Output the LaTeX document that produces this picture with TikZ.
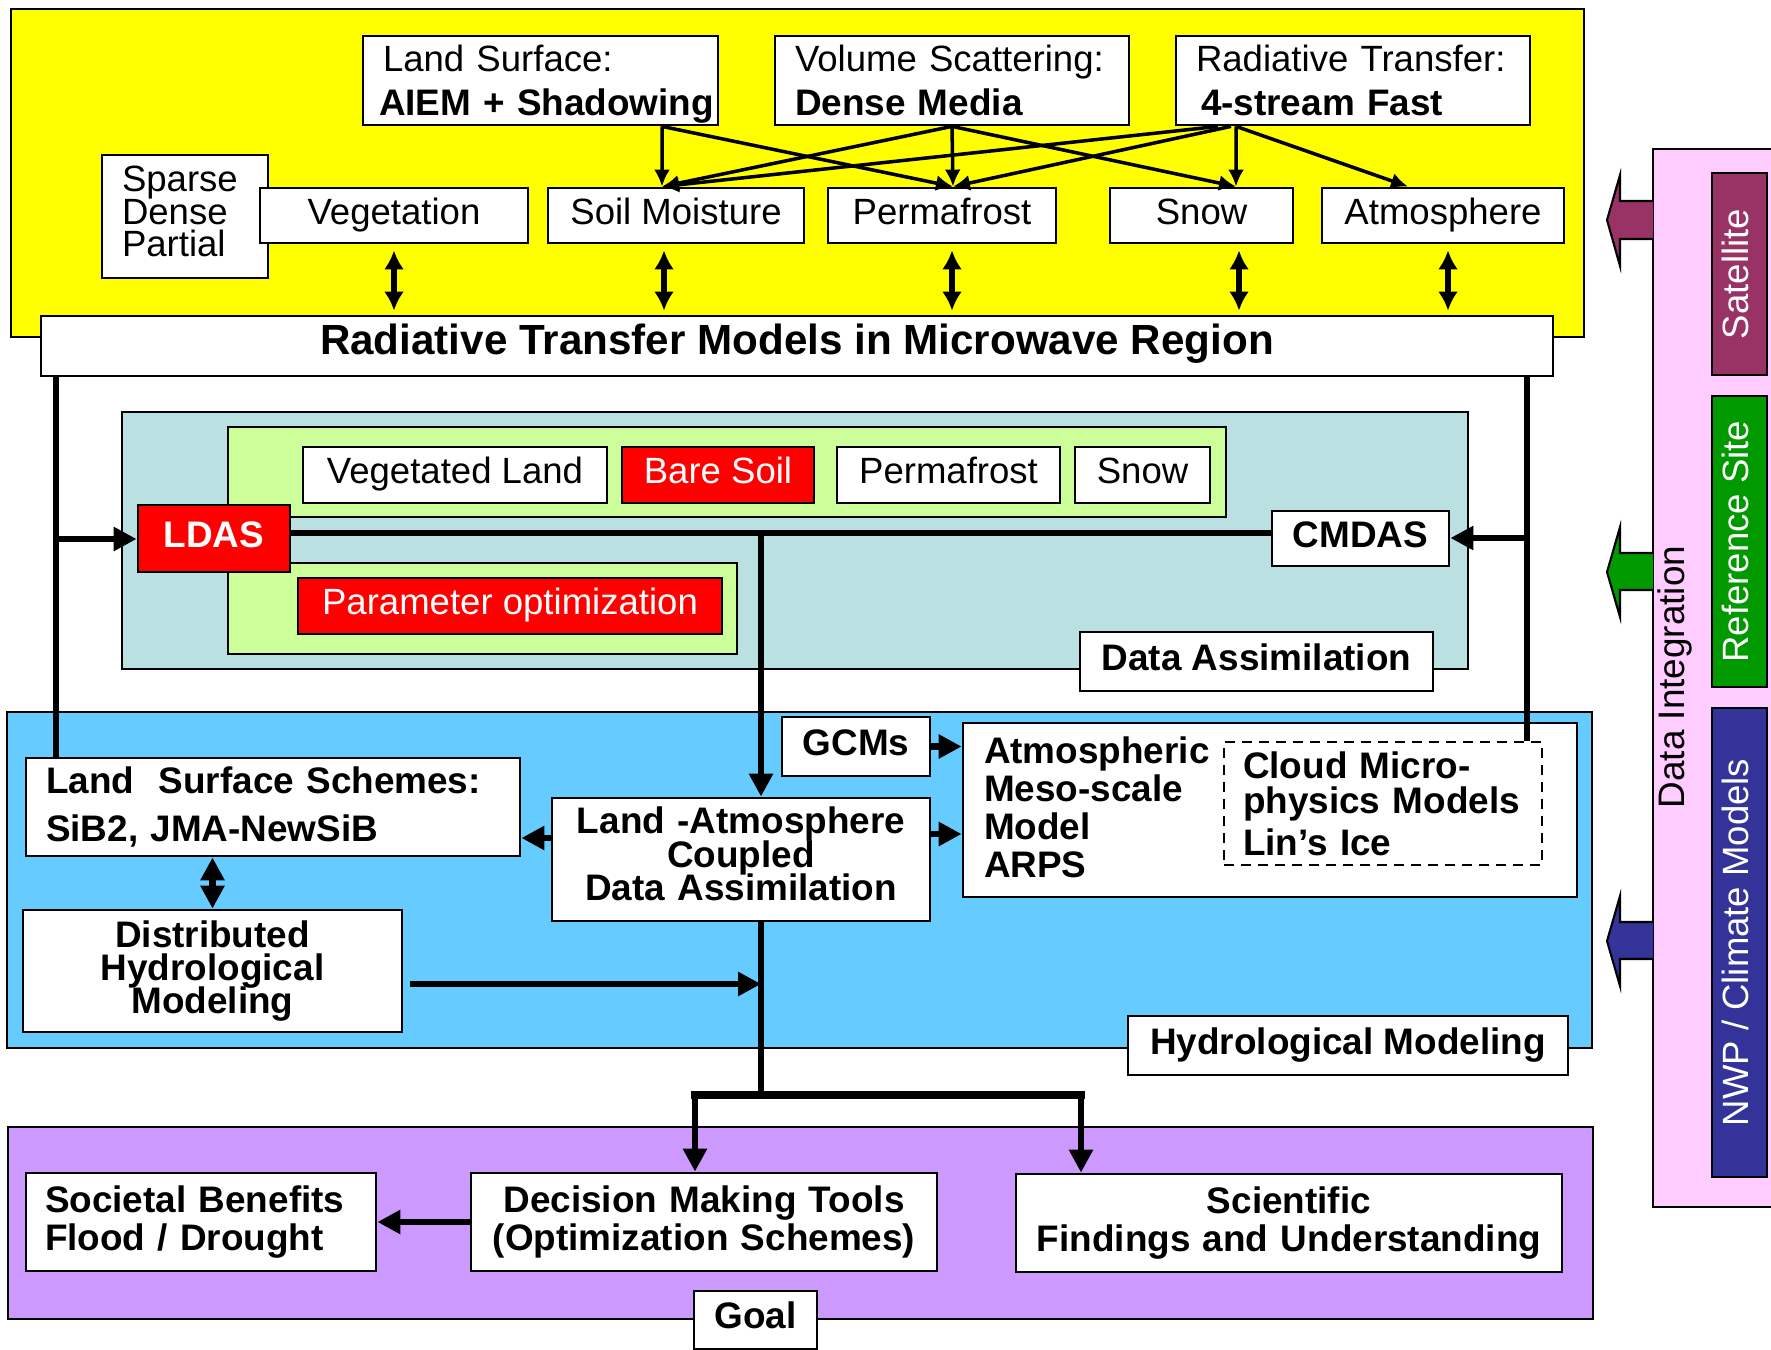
\documentclass[tikz,border=0pt]{standalone}
\usepackage{fontspec}
\setmainfont{Liberation Sans}
\usetikzlibrary{arrows.meta}

\definecolor{yellowbg}{HTML}{FFFF00}
\definecolor{tealbg}{HTML}{BAE0E2}
\definecolor{limebg}{HTML}{CCFF99}
\definecolor{bluebg}{HTML}{66CCFF}
\definecolor{purplebg}{HTML}{CC99FF}
\definecolor{pinkbg}{HTML}{FFCCFF}
\definecolor{satcol}{HTML}{993366}
\definecolor{refcol}{HTML}{009900}
\definecolor{nwpcol}{HTML}{333399}
\definecolor{boxred}{HTML}{FF0000}

\newcommand{\tightlines}{\lineskiplimit=-10pt\relax}

\begin{document}
\begin{tikzpicture}[x=0.1mm, y=-0.1mm,
        region/.style={draw, line width=0.8pt},
        wbox/.style={draw, fill=white, line width=0.8pt, inner sep=0pt,
            text height=2.7mm, text depth=1mm, font=\fontsize{10.4}{12.5}\selectfont},
        bbox/.style={wbox, font=\fontsize{10.5}{12.5}\selectfont\bfseries},
        redbox/.style={wbox, fill=boxred, text=white},
        tbox/.style={draw, fill=white, line width=0.8pt, inner ysep=0pt, inner xsep=2mm},
        sidebox/.style={wbox, rotate=90, text=white, minimum height=5.5mm},
        thinarrow/.style={line width=1pt, -{Latex[length=1.7mm, width=1.6mm]}},
        dblarrow/.style={line width=1.6pt, {Latex[length=1.9mm, width=2mm]}-{Latex[length=1.9mm, width=2mm]},
            shorten <=0.6mm, shorten >=0.4mm},
        trunk/.style={line width=1.9pt},
        bigarrow/.style={trunk, -{Triangle[length=2.3mm, width=2.3mm]}},
        bigdbl/.style={trunk, {Triangle[length=2.3mm, width=2.3mm]}-{Triangle[length=2.3mm, width=2.3mm]}},
        blockarrow/.style={line width=0.6pt, draw=black}]

        \useasboundingbox (0,0) rectangle (1771,1350);

        \draw[region, fill=yellowbg] (11,9) rectangle (1584,337);
        \draw[region, fill=tealbg] (122,412) rectangle (1468,669);
        \draw[region, fill=limebg] (228,427) rectangle (1226,517);
        \draw[region, fill=limebg] (228,563) rectangle (737,654);
        \draw[region, fill=bluebg] (7,712) rectangle (1592,1048);
        \draw[region, fill=purplebg] (8,1127) rectangle (1593,1319);
        \draw[region, fill=pinkbg] (1653,149) rectangle (1790,1207);

        \node[tbox, text width=32.3mm, inner xsep=1.6mm, minimum height=8.9mm, align=left, font=\fontsize{10.4}{12.5}\selectfont]
            (lsurf) at (540.5,80.5) {\hspace*{0.4mm}Land Surface:\\\raisebox{0pt}[\height][0pt]{\bfseries\fontsize{10.5}{12.5}\selectfont AIEM + Shadowing}};
        \node[tbox, text width=31.4mm, minimum height=8.9mm, align=left, font=\fontsize{10.4}{12.5}\selectfont]
            (vscat) at (952,80.5) {Volume Scattering:\\\mbox{\bfseries\fontsize{10.5}{12.5}\selectfont Dense Media}};
        \node[tbox, text width=31.4mm, minimum height=8.9mm, align=left, font=\fontsize{10.4}{12.5}\selectfont]
            (rtrans) at (1353,80.5) {Radiative Transfer:\\\hspace*{0.5mm}\mbox{\bfseries\fontsize{10.5}{12.5}\selectfont 4-stream Fast}};
        \node[tbox, text width=12.6mm, minimum height=12.3mm, align=left,
            font=\fontsize{10.4}{9.3}\selectfont\tightlines]
            (spdp) at (185,216.5) {Sparse\\Dense\\Partial\vspace{1mm}};
        \node[wbox, minimum width=26.8mm, minimum height=5.5mm] (veg) at (394,215.5) {Vegetation};
        \node[wbox, minimum width=25.6mm, minimum height=5.5mm] (soil) at (676,215.5) {Soil Moisture};
        \node[wbox, minimum width=22.8mm, minimum height=5.5mm] (perm) at (942,215.5) {Permafrost};
        \node[wbox, minimum width=18.3mm, minimum height=5.5mm] (snow) at (1201.5,215.5) {Snow};
        \node[wbox, minimum width=24.2mm, minimum height=5.5mm] (atmos) at (1443,215.5) {Atmosphere};
        \node[wbox, minimum width=151.2mm, minimum height=6mm, font=\fontsize{12}{14}\selectfont\bfseries]
            (rtbar) at (797,346) {Radiative Transfer Models in Microwave Region};

        \node[wbox, minimum width=30.4mm, minimum height=5.6mm] (vland) at (455,475) {Vegetated Land};
        \node[redbox, minimum width=19.2mm, minimum height=5.6mm] (bsoil) at (718,475) {Bare Soil};
        \node[wbox, minimum width=22.3mm, minimum height=5.6mm] (dperm) at (948.5,475) {Permafrost};
        \node[wbox, minimum width=13.5mm, minimum height=5.6mm] (dsnow) at (1142.5,475) {Snow};
        \node[redbox, minimum width=15.2mm, minimum height=6.7mm, font=\fontsize{10.5}{12.5}\selectfont\bfseries]
            (ldas) at (214,538.5) {LDAS};
        \node[redbox, minimum width=42.4mm, minimum height=5.6mm] (popt) at (510,606) {Parameter optimization};
        \node[bbox, minimum width=17.7mm, minimum height=5.5mm] (cmdas) at (1360.5,538.5) {CMDAS};
        \node[bbox, minimum width=35.3mm, minimum height=5.9mm] (dalab) at (1256.5,661.5) {Data Assimilation};

        \node[bbox, minimum width=14.8mm, minimum height=5.9mm] (gcms) at (856,746.5) {GCMs};
        \node[tbox, text width=57.2mm, inner xsep=2.1mm, minimum height=17.4mm, align=left,
            font=\fontsize{10.5}{10.8}\selectfont\bfseries\tightlines]
            (atmo) at (1270,810) {Atmospheric\\Meso-scale\\Model\\ARPS\vspace{0.6mm}};
        \node[tbox, dashed, dash pattern=on 1mm off 0.7mm, text width=28mm, inner xsep=1.9mm, minimum height=12.3mm,
            align=left, font=\fontsize{10.5}{9.9}\selectfont\bfseries\tightlines]
            (cloud) at (1383,803.5) {Cloud Micro-\\physics Models\\[2pt]Lin's Ice};
        \node[tbox, text width=45.4mm, minimum height=9.8mm, align=left, font=\fontsize{10.5}{13.7}\selectfont\bfseries]
            (lss) at (273,807) {Land\ \ Surface Schemes:\\SiB2, JMA-NewSiB};
        \node[tbox, text width=33.8mm, minimum height=12.3mm, align=center,
            font=\fontsize{10.5}{9.5}\selectfont\bfseries\tightlines]
            (lacda) at (741,859.5) {Land -Atmosphere\\Coupled\\Data Assimilation\vspace{1.1mm}};
        \node[tbox, text width=33.9mm, minimum height=12.2mm, align=center,
            font=\fontsize{10.5}{9.4}\selectfont\bfseries\tightlines]
            (dhm) at (212.5,971) {Distributed\\Hydrological\\Modeling};
        \node[bbox, minimum width=44mm, minimum height=5.9mm] (hmlab) at (1348,1045.5) {Hydrological Modeling};

        \node[tbox, text width=31.2mm, inner xsep=1.9mm, minimum height=9.8mm, align=left,
            font=\fontsize{10.5}{10.8}\selectfont\bfseries]
            (soc) at (201,1222) {Societal Benefits\\Flood / Drought};
        \node[tbox, text width=42.6mm, minimum height=9.8mm, align=center, font=\fontsize{10.5}{10.8}\selectfont\bfseries]
            (dmt) at (704,1222) {Decision Making Tools\\(Optimization Schemes)};
        \node[tbox, text width=50.6mm, minimum height=9.8mm, align=center, font=\fontsize{10.5}{10.8}\selectfont\bfseries]
            (sci) at (1289,1223) {Scientific\\Findings and Understanding};
        \node[bbox, minimum width=12.3mm, minimum height=5.8mm] (goallab) at (755.5,1320) {Goal};

        \node[sidebox, fill=satcol, minimum width=20.2mm] (sat) at (1739.5,274) {Satellite};
        \node[sidebox, fill=refcol, minimum width=29.1mm] (refsite) at (1739.5,541.5) {Reference Site};
        \node[sidebox, fill=nwpcol, minimum width=46.9mm] (nwp) at (1739.5,942.5) {NWP / Climate Models};
        \node[rotate=90, font=\fontsize{10.5}{12}\selectfont, text height=2.7mm, text depth=1mm, inner sep=0pt]
            (dint) at (1676,677) {Data Integration};

        \draw[blockarrow, fill=satcol] (1653,201) -- (1620,201) -- (1620,175) -- (1607,220) -- (1620,266) -- (1620,239) -- (1653,239);
        \draw[blockarrow, fill=refcol] (1653,553) -- (1620,553) -- (1620,527) -- (1607,572) -- (1620,617) -- (1620,590) -- (1653,590);
        \draw[blockarrow, fill=nwpcol] (1653,922) -- (1620,922) -- (1620,896) -- (1607,941) -- (1620,986) -- (1620,959) -- (1653,959);

        \draw[thinarrow] ([xshift=12.15mm]lsurf.south) -- ([xshift=-1.4mm]soil.north);
        \draw[thinarrow] ([xshift=12.15mm]lsurf.south) -- ([xshift=1.1mm]perm.north);
        \draw[thinarrow] (vscat.south) -- ([xshift=-1.4mm]soil.north);
        \draw[thinarrow] (vscat.south) -- ([xshift=1.1mm]perm.north);
        \draw[thinarrow] (vscat.south) -- ([xshift=3.45mm]snow.north);
        \draw[thinarrow] ([xshift=-13.5mm]rtrans.south) -- ([xshift=-1.4mm]soil.north);
        \draw[thinarrow] ([xshift=-12.2mm]rtrans.south) -- ([xshift=1.1mm]perm.north);
        \draw[thinarrow] ([xshift=-11.7mm]rtrans.south) -- ([xshift=3.45mm]snow.north);
        \draw[thinarrow] ([xshift=-11.7mm]rtrans.south) -- ([xshift=-3.5mm]atmos.north);

        \draw[dblarrow] (veg.south) -- (veg.south |- rtbar.north);
        \draw[dblarrow] ([xshift=-1.2mm]soil.south) -- ([xshift=-1.2mm]soil.south |- rtbar.north);
        \draw[dblarrow] ([xshift=1mm]perm.south) -- ([xshift=1mm]perm.south |- rtbar.north);
        \draw[dblarrow] ([xshift=3.75mm]snow.south) -- ([xshift=3.75mm]snow.south |- rtbar.north);
        \draw[dblarrow] ([xshift=0.5mm]atmos.south) -- ([xshift=0.5mm]atmos.south |- rtbar.north);

        \coordinate (ltrunk) at (56,539);
        \coordinate (rtrunk) at (1527,538);
        \coordinate (hub) at (761,533);
        \coordinate (mjoin) at (761,984);
        \coordinate (split) at (761,1095);
        \coordinate (lsplit) at (695,1095);
        \coordinate (rsplit) at (1081,1095);

        \draw[trunk] (rtbar.south -| ltrunk) -- (lss.north -| ltrunk);
        \draw[bigarrow] (ltrunk) -- (ldas.west |- ltrunk);
        \draw[trunk] (rtbar.south -| rtrunk) -- (cloud.north -| rtrunk);
        \draw[bigarrow] (rtrunk) -- (cmdas.east |- rtrunk);
        \draw[trunk] (ldas.east |- hub) -- (cmdas.west |- hub);
        \draw[bigarrow] (hub) -- (lacda.north -| hub);
        \draw[bigarrow] (gcms.east) -- (gcms.east -| atmo.west);
        \draw[bigarrow] ([yshift=2.15mm]lacda.west) -- ([yshift=2.15mm]lacda.west -| lss.east);
        \draw[bigarrow] ([yshift=2.55mm]lacda.east) -- ([yshift=2.55mm]lacda.east -| atmo.west);
        \draw[bigdbl] (lss.south -| dhm.north) -- (dhm.north);
        \draw[bigarrow] ([xshift=0.7mm]dhm.east |- mjoin) -- (mjoin);
        \draw[trunk] (lacda.south -| hub) -- (split);
        \draw[trunk, line width=2.2pt, line cap=rect] (lsplit) -- (rsplit);
        \draw[bigarrow] (lsplit) -- (lsplit |- dmt.north);
        \draw[bigarrow] (rsplit) -- (rsplit |- sci.north);
        \draw[bigarrow] (dmt.west) -- (soc.east);

\end{tikzpicture}
\end{document}
